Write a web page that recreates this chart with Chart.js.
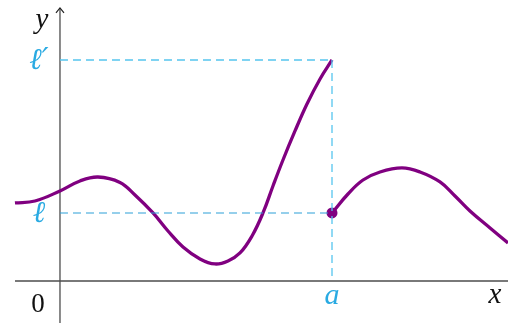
<!DOCTYPE html>
<html>
<head>
<meta charset="utf-8">
<script src="https://cdn.jsdelivr.net/npm/chart.js@4/dist/chart.umd.min.js"></script>
<style>
  html, body { margin: 0; padding: 0; background: #fff; }
  canvas { display: block; }
</style>
</head>
<body>
<canvas id="graph" width="508" height="323"></canvas>
<script>
// values (1 unit = 68 px, origin at the axes crossing)
const leftX  = [-0.662, -0.368, 0, 0.294, 0.559, 0.882, 1.103, 1.368, 1.588, 1.809, 2.059, 2.279, 2.471, 2.647, 2.824, 2.985, 3.132, 3.279, 3.456, 3.632, 3.824, 4];
const leftY  = [1.147, 1.176, 1.324, 1.471, 1.529, 1.449, 1.265, 1.0, 0.735, 0.5, 0.324, 0.25, 0.294, 0.412, 0.662, 1.0, 1.397, 1.779, 2.206, 2.603, 2.971, 3.25];
const rightX = [4, 4.235, 4.456, 4.706, 5.029, 5.294, 5.588, 5.809, 6.029, 6.324, 6.588];
const rightY = [1.0, 1.279, 1.485, 1.603, 1.662, 1.603, 1.456, 1.25, 1.029, 0.779, 0.559];
const a = 4;
const l = 1;
const lPrime = 3.25;

const xMin = -0.882, xMax = 6.588;
const yMin = -0.618, yMax = 4.132;

function pts(xs, ys) {
  let out = [];
  for (var i = 0; i < xs.length; i++) {
    out[i] = {x: xs[i], y: ys[i]};
  }
  return out;
}

const purple = '#800080';
const cyan = '#29aae2';

const axesPlugin = {
  id: 'axes',
  beforeDatasetsDraw(chart) {
    const ctx = chart.ctx;
    const sx = chart.scales.x, sy = chart.scales.y;
    const ox = sx.getPixelForValue(0), oy = sy.getPixelForValue(0);
    ctx.save();
    ctx.strokeStyle = '#4d4d4d';
    ctx.lineWidth = 1.3;
    ctx.beginPath();
    ctx.moveTo(sx.getPixelForValue(-0.662), oy);
    ctx.lineTo(sx.getPixelForValue(xMax), oy);
    const top = sy.getPixelForValue(4.015);
    ctx.moveTo(ox, sy.getPixelForValue(yMin));
    ctx.lineTo(ox, top);
    ctx.stroke();
    // arrow head
    ctx.strokeStyle = '#222';
    ctx.lineWidth = 1.2;
    ctx.beginPath();
    ctx.moveTo(ox - 4, top + 5);
    ctx.lineTo(ox, top);
    ctx.lineTo(ox + 4, top + 5);
    ctx.stroke();
    ctx.restore();
  },
  afterDraw(chart) {
    const ctx = chart.ctx;
    const sx = chart.scales.x, sy = chart.scales.y;
    const ox = sx.getPixelForValue(0), oy = sy.getPixelForValue(0);
    ctx.save();
    ctx.textAlign = 'center';
    ctx.textBaseline = 'middle';
    ctx.fillStyle = '#111';
    ctx.font = 'italic 29px "Liberation Serif"';
    ctx.fillText('y', ox - 18, sy.getPixelForValue(yMax) + 20);
    ctx.fillText('x', sx.getPixelForValue(xMax) - 13, oy + 14);
    ctx.font = '27px "Liberation Serif"';
    ctx.fillText('0', ox - 22, oy + 24);
    ctx.fillStyle = cyan;
    ctx.font = 'italic 30px "Liberation Serif"';
    ctx.fillText('a', sx.getPixelForValue(a), oy + 15);
    ctx.font = 'italic 30px "DejaVu Serif"';
    ctx.fillText('\u2113\u2032', ox - 21, sy.getPixelForValue(lPrime) + 1);
    ctx.fillText('\u2113', ox - 21, sy.getPixelForValue(l) + 1);
    ctx.restore();
  }
};

new Chart(document.getElementById('graph').getContext('2d'), {
  type: 'line',
  data: {
    datasets: [
      {
        data: pts([0, a], [lPrime, lPrime]),
        borderColor: '#55c5ee', borderWidth: 1.3,
        borderDash: [8, 5], pointRadius: 0
      },
      {
        data: pts([a, a], [lPrime, 0]),
        borderColor: '#55c5ee', borderWidth: 1.3,
        borderDash: [8, 5], pointRadius: 0
      },
      {
        data: pts([0, a], [l, l]),
        borderColor: '#2c9fd8', borderWidth: 1.2,
        borderDash: [8, 5], pointRadius: 0
      },
      {
        data: pts(leftX, leftY),
        borderColor: purple, borderWidth: 3.3,
        tension: 0.4, pointRadius: 0
      },
      {
        data: pts(rightX, rightY),
        borderColor: purple, borderWidth: 3.3,
        tension: 0.4, pointRadius: 0
      },
      {
        data: pts([a], [l]),
        showLine: false,
        pointRadius: 5.5, pointBorderWidth: 0,
        pointBackgroundColor: purple, pointBorderColor: purple
      }
    ]
  },
  options: {
    responsive: false,
    animation: false,
    devicePixelRatio: 1,
    layout: { padding: 0, autoPadding: false },
    plugins: { legend: { display: false }, tooltip: { enabled: false } },
    scales: {
      x: { type: 'linear', min: xMin, max: xMax, display: false },
      y: { type: 'linear', min: yMin, max: yMax, display: false }
    }
  },
  plugins: [axesPlugin]
});
</script>
</body>
</html>
